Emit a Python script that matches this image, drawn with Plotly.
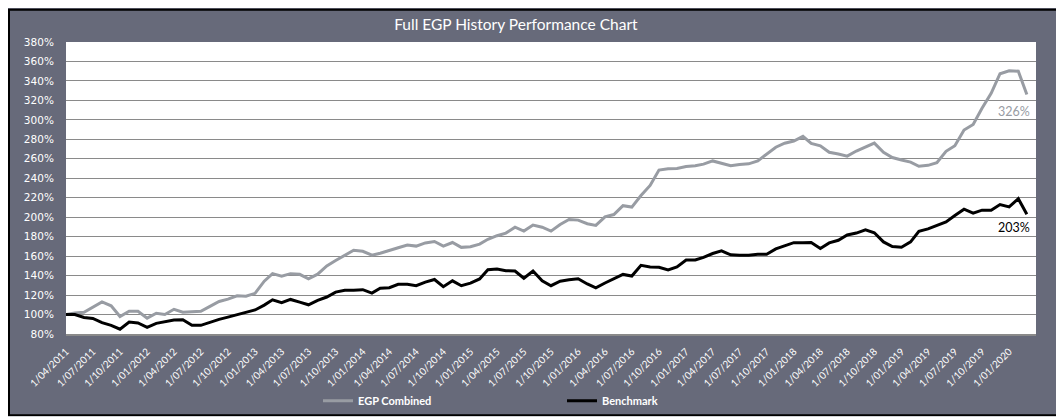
import pandas as pd
import plotly.graph_objects as go

# ---- data ----
start_month = "2011-04-01"
n_months = 108

egp_combined = [
    100, 101.7, 102.4, 108, 113, 109, 98, 103.4, 103.4, 96.3, 101.3, 100, 105.4, 102.4,
    103, 103.4, 108.4, 113.4, 115.8, 119.2, 118.8, 121.8, 134.3, 142, 139.3, 142, 141.3, 136.6,
    141.5, 150, 155.5, 161, 166, 165, 161, 163, 165.5, 168.6, 171.3, 170.3, 173.6, 175,
    170.3, 174, 169, 169.6, 172.3, 177.3, 181, 183.7, 189.7, 185.7, 192, 189.7, 185.7, 192.5,
    197.6, 197, 193.3, 191.6, 200.3, 202.7, 211.8, 210.4, 222.2, 232.6, 248.4, 249.7, 250,
    252, 252.8, 254.5, 257.8, 255.5, 252.8, 254.1, 254.8, 257.8, 264.9, 271.9, 276, 278.3,
    283, 275.8, 273.4, 266.7, 265, 262.7, 268, 272, 276.1, 266.7, 261.3, 258.7, 256.6,
    252.3, 253.3, 256, 267.7, 273.4, 289.6, 295.3, 312, 327.2, 347.4, 350.4, 350, 326,
]
benchmark = [
    100, 100, 97, 96, 91.6, 88.9, 84.9, 92.3, 91.3, 86.9, 90.9, 92.3, 94.3, 94.6,
    88.9, 88.9, 92.3, 95, 97.3, 99.7, 102, 104.7, 109.7, 115.1, 112.1, 115.5, 112.8, 110,
    114.5, 118, 123, 125, 125, 125.5, 122, 127, 127.6, 131, 131, 129.6, 133.3, 136,
    128.6, 134.6, 129.6, 132.3, 136.6, 146, 146.7, 145, 144.7, 137.3, 144.7, 134.6, 129.6, 134.2,
    135.8, 136.8, 131.4, 127.4, 132.4, 137.1, 141.2, 139.5, 150.6, 148.9, 148.6, 145.9, 148.9,
    156, 156, 158.7, 162.7, 165.4, 161.3, 161, 161, 162, 162, 167.4, 170.4, 173.8,
    173.7, 174, 167.9, 173.6, 176.3, 181.7, 183.7, 187, 184, 174.6, 169.9, 169.2, 174.6,
    185.4, 188, 191.4, 195.1, 201.8, 208.2, 204.2, 207.2, 207.2, 213, 210.6, 219, 203,
]
series_names = ["EGP Combined", "Benchmark"]
end_labels = ["326%", "203%"]
y_ticks = list(range(80, 381, 20))
y_ticktext = [f"{v}%" for v in y_ticks]

months = pd.date_range(start_month, periods=n_months, freq="MS")
tick_dates = pd.date_range("2011-04-01", "2020-01-01", freq="3MS")
tick_text = [f"{d.day}/{d.month:02d}/{d.year}" for d in tick_dates]

BG = "#676a7a"
GREY = "#989ca3"

fig = go.Figure()
fig.add_trace(go.Scatter(x=months, y=egp_combined, name=series_names[0], mode="lines",
                         line=dict(color=GREY, width=3)))
fig.add_trace(go.Scatter(x=months, y=benchmark, name=series_names[1], mode="lines",
                         line=dict(color="#000000", width=3)))

fig.add_annotation(x=months[-1], y=egp_combined[-1], text=end_labels[0], showarrow=False,
                   xanchor="right", yanchor="middle", xshift=5, yshift=-17,
                   font=dict(family="Lato", size=12.5, color=GREY))
fig.add_annotation(x=months[-1], y=benchmark[-1], text=end_labels[1], showarrow=False,
                   xanchor="right", yanchor="middle", xshift=5, yshift=-13,
                   font=dict(family="Lato", size=12.5, color="#000000"))

# outer frame
W, H = 1064, 419
L, R, T, B = 58, 36, 34, 87
pw, ph = W - L - R, H - T - B
def px(xp):
    return (xp - L) / pw
def py(yp):
    return (H - B - yp) / ph
fig.add_shape(type="rect", xref="paper", yref="paper", x0=px(1), x1=px(1060), y0=py(1), y1=py(415),
              line=dict(color="#000000", width=2), layer="above")
fig.add_shape(type="rect", xref="paper", yref="paper", x0=px(1061), x1=px(1070), y0=py(-5), y1=py(425),
              line=dict(width=0), fillcolor="#ffffff", layer="above")
fig.add_shape(type="rect", xref="paper", yref="paper", x0=px(-5), x1=px(1070), y0=py(416), y1=py(425),
              line=dict(width=0), fillcolor="#ffffff", layer="above")

fig.update_layout(
    width=W, height=H,
    margin=dict(l=L, r=R, t=T, b=B),
    paper_bgcolor=BG, plot_bgcolor="#ffffff",
    title=dict(text="Full EGP History Performance Chart", x=px(521), xanchor="center",
               y=1 - 17 / H, yanchor="middle",
               font=dict(family="Lato", size=15.5, color="#ffffff")),
    showlegend=True,
    legend=dict(orientation="h", x=px(310), xanchor="left", y=py(400), yanchor="middle",
                bgcolor="rgba(0,0,0,0)", entrywidth=199, entrywidthmode="pixels",
                font=dict(family="Lato", size=11, color="#ffffff", weight="bold"),
                itemwidth=30),
    xaxis=dict(type="date", range=["2011-04-01", "2020-04-01"],
               tickmode="array", tickvals=tick_dates, ticktext=tick_text, tickangle=-45,
               tickfont=dict(family="Lato", size=10, color="#ffffff"),
               showgrid=False, showline=True, linecolor="#8a8a8a", linewidth=1.5,
               ticks="outside", ticklen=6, tickcolor=BG, zeroline=False),
    yaxis=dict(range=[80, 380], tickmode="array", tickvals=y_ticks, ticktext=y_ticktext,
               tickfont=dict(family="DejaVu Sans", size=10.5, color="#ffffff"),
               showgrid=True, gridcolor="#8a8a8a", gridwidth=1.3,
               ticks="outside", ticklen=9, tickcolor=BG, zeroline=False, showline=False),
)

fig.write_html("out.html")
